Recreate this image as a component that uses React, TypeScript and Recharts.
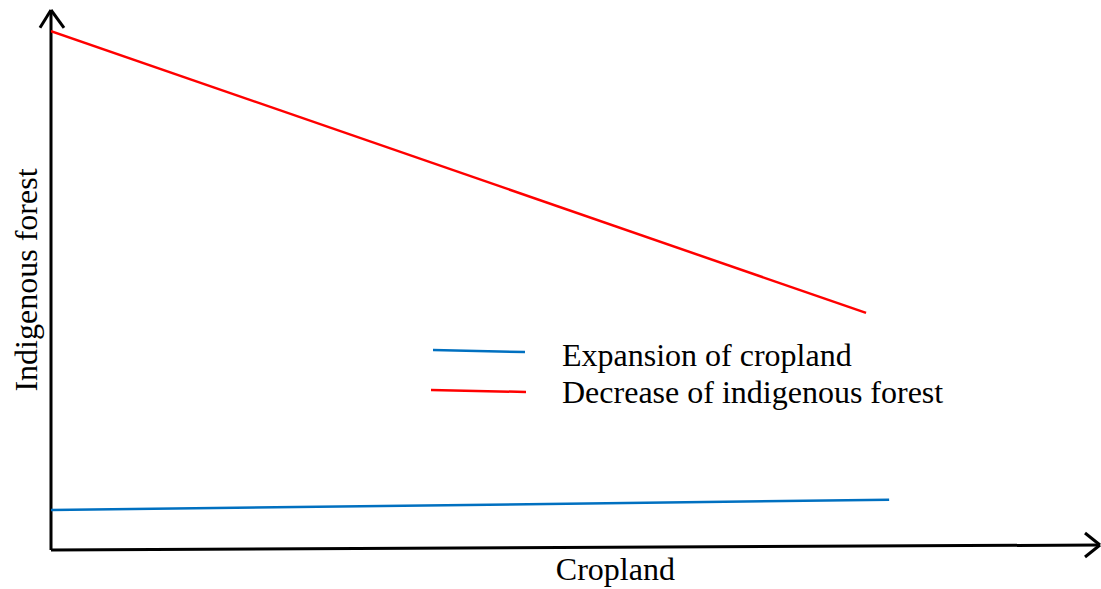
import {
  LineChart,
  Line,
  XAxis,
  YAxis,
  ReferenceLine,
  Legend,
} from "recharts";

// x and y are in arbitrary units (0-100)
const forestDecrease = [
  { x: 0, y: 96.1 },
  { x: 77.7, y: 43.9 },
];
const croplandExpansion = [
  { x: 0, y: 7.4 },
  { x: 79.9, y: 9.3 },
];

const SERIES_NAMES = ["Expansion of cropland", "Decrease of indigenous forest"];
const SERIES_COLORS = ["#0070C0", "#FF0000"];

const FONT = "'Liberation Serif', 'Times New Roman', serif";
const FONT_SIZE = 32;
const AXIS = "#000";

function LegendBox() {
  return (
    <svg width={540} height={80} style={{ overflow: "visible" }}>
      <line x1={8} y1={20} x2={100} y2={22} stroke={SERIES_COLORS[0]} strokeWidth={2.5} />
      <text x={137} y={36} fontFamily={FONT} fontSize={FONT_SIZE} fill="#000">
        {SERIES_NAMES[0]}
      </text>
      <line x1={6} y1={60} x2={101} y2={62} stroke={SERIES_COLORS[1]} strokeWidth={2.5} />
      <text x={137} y={73} fontFamily={FONT} fontSize={FONT_SIZE} fill="#000">
        {SERIES_NAMES[1]}
      </text>
    </svg>
  );
}

function XLabel(props: any) {
  const { viewBox } = props;
  return (
    <text
      x={viewBox.x + viewBox.width * 0.538}
      y={viewBox.y + 30}
      textAnchor="middle"
      fontFamily={FONT}
      fontSize={FONT_SIZE}
      fill="#000"
    >
      Cropland
    </text>
  );
}

export default function App() {
  return (
    <div style={{ position: "absolute", left: 0, top: 0, background: "#fff" }}>
      <LineChart
        width={1101}
        height={589}
        margin={{ top: 10, right: 1, bottom: 0, left: 0 }}
      >
        <XAxis
          type="number"
          dataKey="x"
          domain={[0, 100]}
          allowDataOverflow
          axisLine={false}
          tick={false}
          tickLine={false}
          height={39}
          label={<XLabel />}
        />
        <YAxis
          type="number"
          dataKey="y"
          domain={[0, 100]}
          allowDataOverflow
          axisLine={false}
          tick={false}
          tickLine={false}
          width={51}
          label={{
            value: "Indigenous forest",
            angle: -90,
            position: "center",
            fontFamily: FONT,
            fontSize: FONT_SIZE,
            fill: "#000",
          }}
        />
        {/* axes drawn by hand with arrow heads */}
        <ReferenceLine segment={[{ x: 0, y: 0 }, { x: 0, y: 100 }]} stroke={AXIS} strokeWidth={3} ifOverflow="visible" />
        <ReferenceLine segment={[{ x: -1.05, y: 96.7 }, { x: 0, y: 100 }]} stroke={AXIS} strokeWidth={3} ifOverflow="visible" />
        <ReferenceLine segment={[{ x: 1.24, y: 96.7 }, { x: 0, y: 100 }]} stroke={AXIS} strokeWidth={3} ifOverflow="visible" />
        <ReferenceLine segment={[{ x: 0, y: 0 }, { x: 100, y: 0.93 }]} stroke={AXIS} strokeWidth={3} ifOverflow="visible" />
        <ReferenceLine segment={[{ x: 98.57, y: 3.15 }, { x: 100, y: 0.93 }]} stroke={AXIS} strokeWidth={3} ifOverflow="visible" />
        <ReferenceLine segment={[{ x: 98.57, y: -1.3 }, { x: 100, y: 0.93 }]} stroke={AXIS} strokeWidth={3} ifOverflow="visible" />
        <Line
          data={croplandExpansion}
          dataKey="y"
          name={SERIES_NAMES[0]}
          stroke={SERIES_COLORS[0]}
          strokeWidth={2.5}
          dot={false}
          activeDot={false}
          isAnimationActive={false}
        />
        <Line
          data={forestDecrease}
          dataKey="y"
          name={SERIES_NAMES[1]}
          stroke={SERIES_COLORS[1]}
          strokeWidth={2.5}
          dot={false}
          activeDot={false}
          isAnimationActive={false}
        />
        <Legend
          layout="horizontal"
          verticalAlign="middle"
          align="center"
          wrapperStyle={{ left: 425, top: 330, width: 540, height: 80 }}
          content={() => <LegendBox />}
        />
      </LineChart>
    </div>
  );
}
